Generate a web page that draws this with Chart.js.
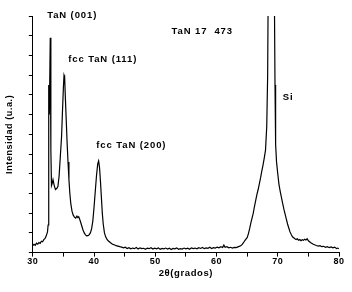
<!DOCTYPE html>
<html>
<head>
<meta charset="utf-8">
<script src="https://cdn.jsdelivr.net/npm/chart.js@4"></script>
<style>
  body { margin: 0; background: #fff; }
  #wrap { width: 352px; height: 292px; position: relative; }
</style>
</head>
<body>
<div id="wrap"><canvas id="xrdChart"></canvas></div>
<script>
// XRD pattern, TaN 17 473
const twoTheta = [
  30.0, 30.2, 30.4, 30.6, 30.8, 31.0, 31.2, 31.4, 31.6, 31.8, 32.0, 32.2, 32.4, 32.5, 32.6, 32.7, 32.85, 32.95,
  33.05, 33.15, 33.3, 33.5, 33.7, 33.9, 34.1, 34.3, 34.5, 34.7, 34.85, 35.0, 35.1, 35.2, 35.3, 35.45, 35.6, 35.75,
  35.9, 36.05, 36.2, 36.4, 36.6, 36.8, 37.0, 37.2, 37.35, 37.5, 37.65, 37.8, 38.0, 38.2, 38.4, 38.6, 38.8, 39.0,
  39.2, 39.4, 39.6, 39.8, 40.0, 40.2, 40.4, 40.6, 40.75, 40.9, 41.05, 41.2, 41.35, 41.5, 41.7, 41.9, 42.1, 42.3,
  42.5, 42.7, 42.9, 43.1, 43.3, 43.6, 43.9, 44.2, 44.5, 44.8, 45.1, 45.4, 45.7, 46.0, 46.3, 46.6, 46.9, 47.2,
  47.5, 47.8, 48.1, 48.4, 48.7, 49.0, 49.3, 49.6, 49.9, 50.2, 50.5, 50.8, 51.1, 51.4, 51.7, 52.0, 52.3, 52.6,
  52.9, 53.2, 53.5, 53.8, 54.1, 54.4, 54.7, 55.0, 55.3, 55.6, 55.9, 56.2, 56.5, 56.8, 57.1, 57.4, 57.7, 58.0,
  58.3, 58.6, 58.9, 59.2, 59.5, 59.8, 60.1, 60.4, 60.7, 61.0, 61.2, 61.4, 61.7, 62.0, 62.3, 62.6, 62.9, 63.2,
  63.5, 63.8, 64.0, 64.2, 64.4, 64.6, 64.8, 65.0, 65.2, 65.4, 65.6, 65.8, 66.0, 66.2, 66.4, 66.6, 66.8, 67.0,
  67.2, 67.4, 67.6, 67.8, 68.0, 68.2, 68.35, 68.45, 68.6, 68.8, 69.0, 69.2, 69.35, 69.45, 69.55, 69.65, 69.8, 70.0,
  70.2, 70.4, 70.6, 70.8, 71.0, 71.2, 71.4, 71.6, 71.8, 72.0, 72.2, 72.4, 72.6, 72.8, 73.0, 73.2, 73.4, 73.6,
  73.8, 74.0, 74.2, 74.4, 74.6, 74.8, 75.0, 75.2, 75.4, 75.6, 75.8, 76.0, 76.3, 76.6, 76.9, 77.2, 77.5, 77.8,
  78.1, 78.4, 78.7, 79.0, 79.3, 79.6, 79.8, 80.0
];
const intensity = [
  0.36, 0.42, 0.37, 0.48, 0.43, 0.51, 0.47, 0.58, 0.55, 0.66, 0.72, 0.85, 1.05, 1.4, 8.5, 7.0, 10.9, 5.2,
  3.4, 3.5, 3.7, 3.4, 3.2, 3.25, 3.35, 3.9, 4.9, 5.9, 7.2, 8.4, 9.0, 8.9, 8.0, 6.8, 5.6, 4.6,
  3.7, 3.0, 2.5, 2.1, 1.9, 1.8, 1.75, 1.85, 1.78, 1.82, 1.7, 1.55, 1.35, 1.15, 1.0, 0.9, 0.85, 0.86,
  0.9, 1.0, 1.2, 1.6, 2.3, 3.1, 3.9, 4.5, 4.65, 4.3, 3.6, 2.8, 2.0, 1.45, 1.0, 0.8, 0.68, 0.6,
  0.55, 0.5, 0.45, 0.42, 0.4, 0.35, 0.33, 0.3, 0.28, 0.24, 0.27, 0.21, 0.25, 0.19, 0.23, 0.2, 0.26, 0.18,
  0.24, 0.2, 0.22, 0.17, 0.23, 0.2, 0.25, 0.18, 0.22, 0.19, 0.24, 0.17, 0.21, 0.19, 0.23, 0.18, 0.22, 0.16,
  0.21, 0.19, 0.24, 0.17, 0.2, 0.18, 0.23, 0.19, 0.22, 0.17, 0.24, 0.2, 0.23, 0.19, 0.25, 0.21, 0.26, 0.2,
  0.24, 0.22, 0.27, 0.21, 0.25, 0.23, 0.28, 0.24, 0.3, 0.26, 0.38, 0.27, 0.3, 0.24, 0.27, 0.23, 0.26, 0.25,
  0.29, 0.33, 0.36, 0.42, 0.5, 0.6, 0.68, 0.76, 0.95, 1.2, 1.5, 1.75, 2.0, 2.35, 2.65, 2.95, 3.2, 3.5,
  3.8, 4.15, 4.45, 4.8, 5.2, 6.4, 9.0, 14.0, 22.0, 36.0, 45.0, 34.0, 20.0, 13.0, 8.5, 5.5, 4.6, 4.0,
  3.45, 3.1, 2.8, 2.5, 2.2, 1.95, 1.7, 1.45, 1.25, 1.05, 0.92, 0.8, 0.75, 0.7, 0.66, 0.7, 0.63, 0.66,
  0.6, 0.65, 0.62, 0.68, 0.64, 0.7, 0.6, 0.55, 0.5, 0.46, 0.42, 0.4, 0.36, 0.33, 0.35, 0.3, 0.32, 0.27,
  0.3, 0.25, 0.29, 0.24, 0.28, 0.2, 0.23, 0.19
];

// peak labels, placed in data coordinates
const labelTexts = ["TaN (001)", "TaN 17  473", "fcc TaN (111)", "Si", "fcc TaN (200)"];
const labelX = [32.34, 52.65, 35.78, 70.83, 40.37];
const labelY = [12.05, 11.2, 9.81, 7.86, 5.45];

const FONT = "'Liberation Sans', Arial, sans-serif";

const spacingPlugin = {
  id: "spacing",
  beforeDraw(chart) { chart.ctx.letterSpacing = "0.6px"; }
};

const peakLabels = {
  id: "peakLabels",
  afterDatasetsDraw(chart) {
    const { ctx, scales: { x, y } } = chart;
    ctx.save();
    ctx.letterSpacing = "0.9px";
    ctx.font = "bold 9.5px " + FONT;
    ctx.fillStyle = "#000";
    ctx.textAlign = "left";
    ctx.textBaseline = "middle";
    labelTexts.forEach((t, i) => {
      ctx.fillText(t, x.getPixelForValue(labelX[i]), y.getPixelForValue(labelY[i]));
    });
    ctx.restore();
  }
};

const points = twoTheta.map((t, i) => ({ x: t, y: intensity[i] }));

new Chart(document.getElementById("xrdChart"), {
  type: "line",
  data: {
    datasets: [{
      data: points,
      borderColor: "#000",
      borderWidth: 1.2,
      pointRadius: 0,
      tension: 0,
      fill: false
    }]
  },
  options: {
    responsive: true,
    maintainAspectRatio: false,
    animation: false,
    layout: { padding: { left: 0, right: 13, top: 16, bottom: 0 } },
    plugins: { legend: { display: false }, tooltip: { enabled: false } },
    scales: {
      x: {
        type: "linear",
        min: 30,
        max: 80,
        border: { display: true, color: "#000", width: 1 },
        grid: { drawOnChartArea: false, drawTicks: true, tickLength: 4, color: "#000" },
        ticks: {
          stepSize: 5,
          autoSkip: false,
          maxRotation: 0,
          padding: 0,
          color: "#000",
          font: { family: FONT, size: 9, weight: "bold", lineHeight: 1 },
          callback: v => (v % 10 === 0 ? String(v) : "")
        },
        title: {
          display: true,
          text: "2θ(grados)",
          color: "#000",
          font: { family: FONT, size: 9.5, weight: "bold", lineHeight: 1.2 },
          padding: { top: 2, bottom: 13 }
        }
      },
      y: {
        min: 0,
        max: 12,
        border: { display: true, color: "#000", width: 1 },
        grid: { drawOnChartArea: false, drawTicks: true, tickLength: 4, color: "#000" },
        ticks: { stepSize: 1, display: false },
        title: {
          display: true,
          text: "Intensidad (u.a.)",
          color: "#000",
          font: { family: FONT, size: 9, weight: "bold", lineHeight: 1.2 },
          padding: { top: 4, bottom: 14 }
        }
      }
    }
  },
  plugins: [spacingPlugin, peakLabels]
});
</script>
</body>
</html>
